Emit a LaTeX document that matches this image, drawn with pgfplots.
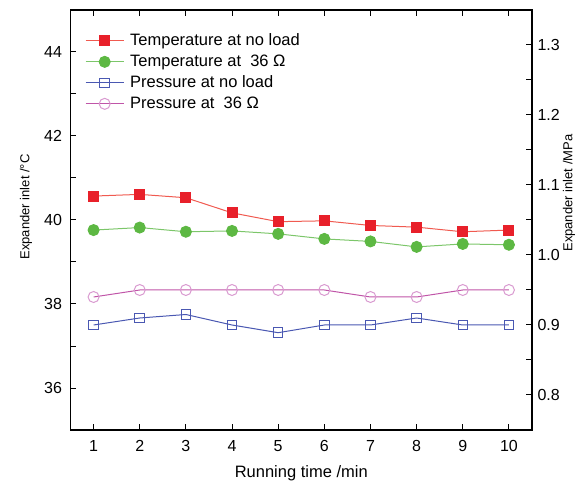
\documentclass[border=0pt]{standalone}
\usepackage{fontspec}
\setmainfont{Liberation Sans}
\usepackage{pgfplots}
\pgfplotsset{compat=1.18}
\definecolor{rfill}{HTML}{E8202A}
\definecolor{rline}{HTML}{F05A50}
\definecolor{gfill}{HTML}{5DB843}
\definecolor{gline}{HTML}{7CC66A}
\definecolor{bline}{HTML}{4A58B2}
\definecolor{pline}{HTML}{C055A8}
\definecolor{pmark}{HTML}{D99AD0}
\begin{document}
\fontsize{16bp}{19bp}\selectfont
\begin{tikzpicture}
\pgfplotsset{
  common/.style={
    width=461.5bp, height=420bp, scale only axis,
    xmin=0.5, xmax=10.5,
    tick align=inside,
    major tick length=6bp, minor tick length=6bp,
    axis line style={line width=1.2bp},
    every tick/.style={line width=1bp, black},
    /pgf/number format/assume math mode=true,
    tick label style={font=\fontsize{16bp}{19bp}\selectfont},
  },
}
\begin{axis}[common,
  ymin=35, ymax=45,
  ytick={36,38,40,42,44}, minor y tick num=1,
  xtick={1,...,10}, xtick pos=both, ytick pos=left,
  xticklabel pos=lower,
  yticklabel style={xshift=-3bp},
  xticklabel style={yshift=-4.5bp},
  xlabel={Running time /min},
  xlabel style={at={(rel axis cs:0.5,-0.102)}, anchor=center, font=\fontsize{16.5bp}{19bp}\selectfont},
  ylabel={Expander inlet /°C},
  ylabel style={at={(rel axis cs:-0.0964,0.531)}, anchor=center, font=\fontsize{13bp}{15bp}\selectfont},
]
\addplot[color=rline, line width=1bp, mark=square*, mark size=5bp,
  mark options={fill=rfill, draw=rfill, solid}] coordinates {
  (1,40.57) (2,40.61) (3,40.53) (4,40.17) (5,39.96)
  (6,39.98) (7,39.87) (8,39.83) (9,39.72) (10,39.76)};
\addplot[color=gline, line width=1bp, mark=*, mark size=5.5bp,
  mark options={fill=gfill, draw=gfill, solid}] coordinates {
  (1,39.76) (2,39.82) (3,39.72) (4,39.74) (5,39.67)
  (6,39.55) (7,39.49) (8,39.36) (9,39.43) (10,39.41)};
\end{axis}
\begin{axis}[common,
  ymin=0.75, ymax=1.35,
  axis y line*=right, axis x line=none,
  ytick={0.8,0.9,1.0,1.1,1.2,1.3}, minor y tick num=1,
  yticklabel style={/pgf/number format/.cd, fixed, fixed zerofill, precision=1},
  ylabel={Expander inlet /MPa},
  ylabel style={at={(rel axis cs:1.080,0.564)}, anchor=center, font=\fontsize{13bp}{15bp}\selectfont},
  legend style={draw=none, fill=none, at={(rel axis cs:0.0314,0.9455)}, anchor=north west,
    inner sep=0bp, row sep=5.5bp,
    nodes={inner sep=0bp, text height=12bp, text depth=3.5bp, font=\fontsize{16.5bp}{19bp}\selectfont}},
  legend cell align=left,
  legend image code/.code={\draw[mark repeat=2,mark phase=2,#1] plot coordinates {(0bp,0bp) (19bp,0bp) (38bp,0bp)}; \path (44bp,0bp);},
]
\addlegendimage{color=rline, line width=1bp, mark=square*, mark size=5bp, mark options={fill=rfill, draw=rfill, solid}}
\addlegendentry{Temperature at no load}
\addlegendimage{color=gline, line width=1bp, mark=*, mark size=5.5bp, mark options={fill=gfill, draw=gfill, solid}}
\addlegendentry{Temperature at \ 36 Ω}
\addplot[color=bline, line width=1bp, mark=square, mark size=4.75bp,
  mark options={fill=white, draw=bline, solid}] coordinates {
  (1,0.90) (2,0.91) (3,0.915) (4,0.90) (5,0.889)
  (6,0.90) (7,0.90) (8,0.91) (9,0.90) (10,0.90)};
\addlegendentry{Pressure at no load}
\addplot[color=pline, line width=1bp, mark=o, mark size=5.5bp,
  mark options={fill=white, draw=pmark, solid}] coordinates {
  (1,0.94) (2,0.95) (3,0.95) (4,0.95) (5,0.95)
  (6,0.95) (7,0.94) (8,0.94) (9,0.95) (10,0.95)};
\addlegendentry{Pressure at \ 36 Ω}
\end{axis}
\pgfresetboundingbox
\path (-70.5bp,-53bp) rectangle (508.5bp,430bp);
\end{tikzpicture}
\end{document}
